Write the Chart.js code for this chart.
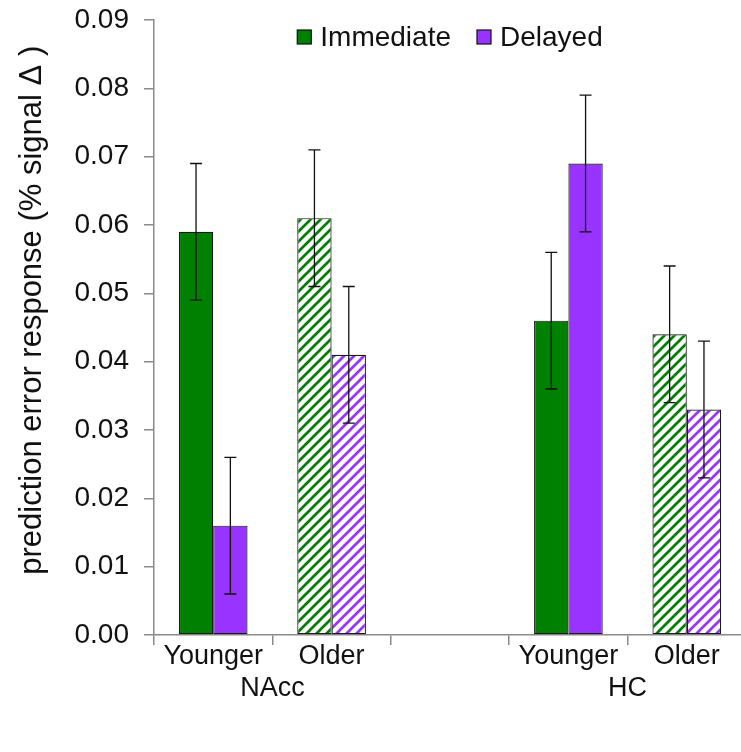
<!DOCTYPE html>
<html>
<head>
<meta charset="utf-8">
<script src="https://cdn.jsdelivr.net/npm/chart.js@4.4.1/dist/chart.umd.min.js"></script>
<style>
  html, body { margin: 0; padding: 0; background: #fff; overflow: hidden; }
  #wrap { position: relative; width: 747px; height: 752px; }
</style>
</head>
<body>
<div id="wrap"><canvas id="c" width="747" height="752"></canvas></div>
<script>
// ---- data ----
const categories   = ['Younger', 'Older', '', 'Younger', 'Older'];
const groupLabels  = ['NAcc', 'HC'];
const groupSpans   = [[0, 1], [3, 4]];           // category indices each region label sits between
const olderFlags   = [false, true, false, false, true];
const seriesNames  = ['Immediate', 'Delayed'];
const immediate    = [0.059, 0.061, null, 0.046, 0.044];
const delayed      = [0.016, 0.041, null, 0.069, 0.033];
const immediateErr = [0.010, 0.010, null, 0.010, 0.010];
const delayedErr   = [0.010, 0.010, null, 0.010, 0.010];
const yMin = 0, yMax = 0.09, yStep = 0.01;
const yTitle = '    prediction error response (% signal \u0394 )';

// ---- styling ----
const FONT = "'Liberation Sans', Arial, sans-serif";
const GREEN = '#008000';
const PURPLE = '#9933ff';
const AXIS = '#8a8a8a';

const canvas = document.getElementById('c');
const ctx = canvas.getContext('2d');

// diagonal hatch fill on white
function hatch(color) {
  const s = 10;
  const t = document.createElement('canvas');
  t.width = s; t.height = s;
  const g = t.getContext('2d');
  g.fillStyle = '#fff';
  g.fillRect(0, 0, s, s);
  g.strokeStyle = color;
  g.lineWidth = 2.7;
  g.beginPath();
  g.moveTo(-1, s + 1); g.lineTo(s + 1, -1);
  g.moveTo(-s / 2 - 1, s / 2 + 1); g.lineTo(s / 2 + 1, -s / 2 - 1);
  g.moveTo(s / 2 - 1, s * 1.5 + 1); g.lineTo(s * 1.5 + 1, s / 2 - 1);
  g.stroke();
  return ctx.createPattern(t, 'repeat');
}

const greenHatch = hatch(GREEN);
const purpleHatch = hatch(PURPLE);

const fills = (solid, pattern) => olderFlags.map(o => (o ? pattern : solid));

// error bars drawn from each bar's value +/- its error
const errorBars = {
  id: 'errorBars',
  afterDatasetsDraw(chart) {
    const c = chart.ctx, y = chart.scales.y;
    chart.data.datasets.forEach((ds, di) => {
      const meta = chart.getDatasetMeta(di);
      meta.data.forEach((bar, i) => {
        const v = ds.data[i], e = ds.errors[i];
        if (v == null || e == null) return;
        const x = bar.x;
        const yt = y.getPixelForValue(v + e);
        const yb = y.getPixelForValue(v - e);
        c.save();
        c.strokeStyle = '#111';
        c.lineWidth = 1.3;
        c.beginPath();
        c.moveTo(x, yt); c.lineTo(x, yb);
        c.moveTo(x - 6, yt); c.lineTo(x + 6, yt);
        c.moveTo(x - 6, yb); c.lineTo(x + 6, yb);
        c.stroke();
        c.restore();
      });
    });
  }
};

// legend inside the plot, near the top
const insideLegend = {
  id: 'insideLegend',
  afterDraw(chart) {
    const c = chart.ctx, area = chart.chartArea;
    const size = 28, box = 14, gap = 9, itemGap = 26;
    c.save();
    c.font = size + 'px ' + FONT;
    const widths = chart.data.datasets.map(d => c.measureText(d.label).width);
    const total = widths.reduce((a, w) => a + box + gap + w, 0) + itemGap * (widths.length - 1);
    let x = (area.left + area.right) / 2 - total / 2;
    const cy = area.top + 17;
    chart.data.datasets.forEach((d, i) => {
      c.fillStyle = d.legendColor;
      c.fillRect(x, cy - box / 2, box, box);
      c.strokeStyle = '#111';
      c.lineWidth = 1.2;
      c.strokeRect(x, cy - box / 2, box, box);
      c.fillStyle = '#111';
      c.textBaseline = 'middle';
      c.textAlign = 'left';
      c.fillText(d.label, x + box + gap, cy + 1);
      x += box + gap + widths[i] + itemGap;
    });
    c.restore();
  }
};

// region labels under the category labels
const regionLabels = {
  id: 'regionLabels',
  afterDraw(chart) {
    const c = chart.ctx, xs = chart.scales.x, area = chart.chartArea;
    c.save();
    c.font = '27px ' + FONT;
    c.fillStyle = '#111';
    c.textAlign = 'center';
    c.textBaseline = 'middle';
    groupLabels.forEach((g, i) => {
      const [a, b] = groupSpans[i];
      const x = (xs.getPixelForValue(a) + xs.getPixelForValue(b)) / 2;
      c.fillText(g, x, area.bottom + 54);
    });
    c.restore();
  }
};

new Chart(canvas, {
  type: 'bar',
  data: {
    labels: categories,
    datasets: [
      {
        label: seriesNames[0],
        data: immediate,
        errors: immediateErr,
        legendColor: GREEN,
        backgroundColor: fills(GREEN, greenHatch),
        borderColor: '#1a1a1a',
        borderWidth: 1.2,
        borderSkipped: false
      },
      {
        label: seriesNames[1],
        data: delayed,
        errors: delayedErr,
        legendColor: PURPLE,
        backgroundColor: fills(PURPLE, purpleHatch),
        borderColor: '#1a1a1a',
        borderWidth: 1.2,
        borderSkipped: false
      }
    ]
  },
  options: {
    responsive: false,
    animation: false,
    devicePixelRatio: 1,
    layout: { padding: { top: 20, right: 1, left: 0, bottom: 0 } },
    datasets: { bar: { categoryPercentage: 0.58, barPercentage: 1.0 } },
    plugins: {
      legend: { display: false },
      tooltip: { enabled: false }
    },
    scales: {
      x: {
        grid: {
          display: true,
          drawOnChartArea: false,
          drawTicks: true,
          tickLength: 10,
          color: AXIS,
          lineWidth: 1.5
        },
        border: { display: true, color: AXIS, width: 1.5 },
        ticks: {
          color: '#111',
          font: { family: FONT, size: 27 },
          padding: -5,
          maxRotation: 0,
          autoSkip: false
        },
        afterFit(scale) { scale.height = 117; scale.paddingLeft = 0; scale.paddingRight = 0; }
      },
      y: {
        min: yMin,
        max: yMax,
        grid: {
          display: true,
          drawOnChartArea: false,
          drawTicks: true,
          tickLength: 10,
          color: AXIS,
          lineWidth: 1.5
        },
        border: { display: true, color: AXIS, width: 1.5 },
        ticks: {
          stepSize: yStep,
          color: '#111',
          font: { family: FONT, size: 28 },
          padding: 15,
          callback: v => Number(v).toFixed(2)
        },
        title: {
          display: true,
          text: yTitle,
          color: '#111',
          font: { family: FONT, size: 31 },
          padding: { top: 14, bottom: 0 }
        },
        afterFit(scale) { scale.width = 154; scale.paddingTop = 0; scale.paddingBottom = 0; }
      }
    }
  },
  plugins: [errorBars, insideLegend, regionLabels]
});
</script>
</body>
</html>
